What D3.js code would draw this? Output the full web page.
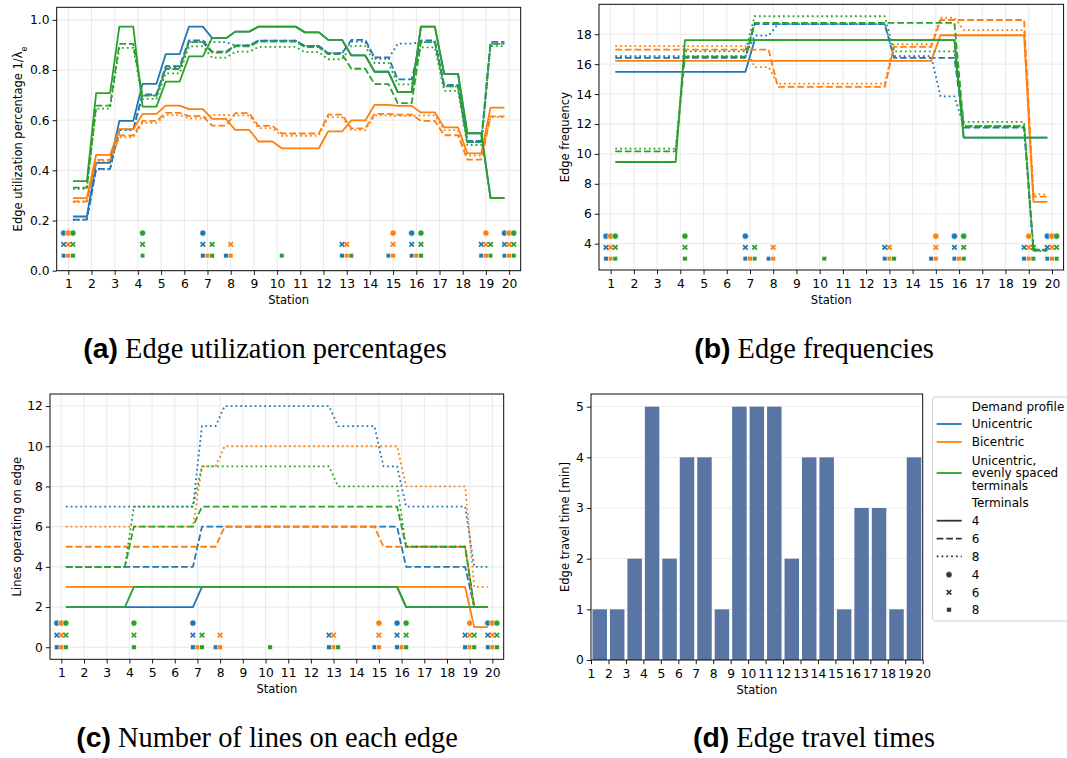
<!DOCTYPE html>
<html>
<head>
<meta charset="utf-8">
<script src="https://cdn.jsdelivr.net/npm/d3@7"></script>
<style>
  body { margin: 0; background: #fff; }
  svg { display: block; }
</style>
</head>
<body>
<svg id="fig" width="1067" height="758"></svg>
<script>
// ---------- data ----------
const stations = d3.range(1, 21);          // stations 1..20
const edges = d3.range(1, 20);             // edge k joins station k and k+1

const profiles = ["Unicentric", "Bicentric", "Unicentric, evenly spaced terminals"];
const terminalCounts = [4, 6, 8];

// terminal stations per demand profile and number of terminals
const termUni4 = [1, 7, 16, 20];
const termUni6 = [1, 7, 13, 16, 19, 20];
const termUni8 = [1, 7, 8, 13, 15, 16, 19, 20];
const termBi4 = [1, 15, 19, 20];
const termBi6 = [1, 8, 13, 15, 19, 20];
const termBi8 = [1, 7, 8, 13, 15, 16, 19, 20];
const termEven4 = [1, 4, 16, 20];
const termEven6 = [1, 4, 7, 16, 19, 20];
const termEven8 = [1, 4, 7, 10, 13, 16, 19, 20];

// edge utilization percentage 1/lambda_e
const utilUni4 = [0.216, 0.430, 0.597, 0.745, 0.863, 0.973, 0.927, 0.953, 0.973, 0.973, 0.950, 0.920, 0.858, 0.793, 0.712, 0.973, 0.785, 0.548, 0.289];
const utilUni6 = [0.204, 0.406, 0.563, 0.703, 0.815, 0.918, 0.873, 0.898, 0.917, 0.917, 0.896, 0.867, 0.920, 0.850, 0.763, 0.918, 0.741, 0.517, 0.912];
const utilUni8 = [0.203, 0.404, 0.560, 0.699, 0.809, 0.912, 0.911, 0.898, 0.917, 0.917, 0.896, 0.867, 0.913, 0.845, 0.905, 0.911, 0.735, 0.513, 0.905];
const utilBi4 = [0.289, 0.462, 0.564, 0.625, 0.658, 0.644, 0.605, 0.561, 0.515, 0.488, 0.488, 0.555, 0.599, 0.661, 0.657, 0.631, 0.571, 0.468, 0.650];
const utilBi6 = [0.276, 0.442, 0.539, 0.597, 0.629, 0.616, 0.578, 0.628, 0.577, 0.547, 0.547, 0.622, 0.567, 0.625, 0.622, 0.597, 0.540, 0.443, 0.615];
const utilBi8 = [0.273, 0.436, 0.532, 0.589, 0.620, 0.607, 0.621, 0.619, 0.568, 0.538, 0.538, 0.612, 0.561, 0.619, 0.617, 0.619, 0.560, 0.459, 0.612];
const utilEven4 = [0.357, 0.708, 0.973, 0.654, 0.754, 0.854, 0.927, 0.953, 0.973, 0.973, 0.950, 0.920, 0.858, 0.793, 0.712, 0.973, 0.785, 0.548, 0.289];
const utilEven6 = [0.331, 0.658, 0.904, 0.698, 0.804, 0.911, 0.869, 0.894, 0.913, 0.913, 0.891, 0.863, 0.805, 0.744, 0.668, 0.911, 0.735, 0.513, 0.904];
const utilEven8 = [0.326, 0.646, 0.888, 0.685, 0.787, 0.894, 0.849, 0.873, 0.892, 0.892, 0.871, 0.843, 0.896, 0.828, 0.743, 0.890, 0.717, 0.501, 0.895];

// edge frequency
const freqUni4 = [15.48, 15.48, 15.48, 15.48, 15.48, 15.48, 17.6, 17.6, 17.6, 17.6, 17.6, 17.6, 17.6, 17.6, 17.6, 11.09, 11.09, 11.09, 11.09];
const freqUni6 = [16.42, 16.42, 16.42, 16.42, 16.42, 16.42, 18.67, 18.67, 18.67, 18.67, 18.67, 18.67, 16.42, 16.42, 16.42, 11.76, 11.76, 11.76, 3.6];
const freqUni8 = [16.53, 16.53, 16.53, 16.53, 16.53, 16.53, 17.9, 18.67, 18.67, 18.67, 18.67, 18.67, 16.53, 16.53, 13.85, 11.85, 11.85, 11.85, 3.55];
const freqBi4 = [16.22, 16.22, 16.22, 16.22, 16.22, 16.22, 16.22, 16.22, 16.22, 16.22, 16.22, 16.22, 16.22, 16.22, 17.93, 17.93, 17.93, 17.93, 6.8];
const freqBi6 = [16.97, 16.97, 16.97, 16.97, 16.97, 16.97, 16.97, 14.48, 14.48, 14.48, 14.48, 14.48, 17.15, 17.15, 18.95, 18.95, 18.95, 18.95, 7.15];
const freqBi8 = [17.2, 17.2, 17.2, 17.2, 17.2, 17.2, 15.8, 14.7, 14.7, 14.7, 14.7, 14.7, 17.33, 17.33, 19.1, 18.27, 18.27, 18.27, 7.3];
const freqEven4 = [9.46, 9.46, 9.46, 17.6, 17.6, 17.6, 17.6, 17.6, 17.6, 17.6, 17.6, 17.6, 17.6, 17.6, 17.6, 11.09, 11.09, 11.09, 11.09];
const freqEven6 = [10.17, 10.17, 10.17, 16.5, 16.5, 16.5, 18.76, 18.76, 18.76, 18.76, 18.76, 18.76, 18.76, 18.76, 18.76, 11.85, 11.85, 11.85, 3.55];
const freqEven8 = [10.35, 10.35, 10.35, 16.86, 16.86, 16.86, 19.2, 19.2, 19.2, 19.2, 19.2, 19.2, 16.86, 16.86, 16.86, 12.14, 12.14, 12.14, 3.5];

// number of lines operating on each edge
const linesUni4 = [2, 2, 2, 2, 2, 2, 3, 3, 3, 3, 3, 3, 3, 3, 3, 2, 2, 2, 2];
const linesUni6 = [4, 4, 4, 4, 4, 4, 6, 6, 6, 6, 6, 6, 6, 6, 6, 4, 4, 4, 2];
const linesUni8 = [7, 7, 7, 7, 7, 7, 11, 12, 12, 12, 12, 12, 11, 11, 9, 7, 7, 7, 4];
const linesBi4 = [3, 3, 3, 3, 3, 3, 3, 3, 3, 3, 3, 3, 3, 3, 3, 3, 3, 3, 1];
const linesBi6 = [5, 5, 5, 5, 5, 5, 5, 6, 6, 6, 6, 6, 6, 6, 5, 5, 5, 5, 2];
const linesBi8 = [6, 6, 6, 6, 6, 6, 9, 10, 10, 10, 10, 10, 10, 10, 10, 8, 8, 8, 3];
const linesEven4 = [2, 2, 2, 3, 3, 3, 3, 3, 3, 3, 3, 3, 3, 3, 3, 2, 2, 2, 2];
const linesEven6 = [4, 4, 4, 6, 6, 6, 7, 7, 7, 7, 7, 7, 7, 7, 7, 5, 5, 5, 2];
const linesEven8 = [4, 4, 4, 7, 7, 7, 9, 9, 9, 9, 9, 9, 8, 8, 8, 5, 5, 5, 2];

// edge travel time [min]
const travelTimes = [1, 1, 2, 5, 2, 4, 4, 1, 5, 5, 5, 2, 4, 4, 1, 3, 3, 1, 4];

// tick labels
const utilTicks = [0, 0.2, 0.4, 0.6, 0.8, 1.0];
const freqTicks = [4, 6, 8, 10, 12, 14, 16, 18];
const linesTicks = [0, 2, 4, 6, 8, 10, 12];
const timeTicks = [0, 1, 2, 3, 4, 5];

// ---------- styling ----------
const FONT = "'DejaVu Sans', 'Liberation Sans', sans-serif";
const colors = ["#1f77b4", "#ff7f0e", "#2ca02c"];
const dashes = { 4: null, 6: "6.7,2.9", 8: "1.8,3" };
const markerOffset = [-0.2, 0, 0.2];
const LW = 1.8;
const TICK_FS = 12.3;
const LABEL_FS = 11.5;

const svg = d3.select("#fig");
svg.append("rect").attr("width", 1067).attr("height", 758).attr("fill", "#fff");

const termLists = [
  [termUni4, termUni6, termUni8],
  [termBi4, termBi6, termBi8],
  [termEven4, termEven6, termEven8]
];

function bundle(a, b, c, d, e, f, g, h, i) {
  return [
    { p: 0, t: 4, v: a }, { p: 0, t: 6, v: b }, { p: 0, t: 8, v: c },
    { p: 1, t: 4, v: d }, { p: 1, t: 6, v: e }, { p: 1, t: 8, v: f },
    { p: 2, t: 4, v: g }, { p: 2, t: 6, v: h }, { p: 2, t: 8, v: i }
  ];
}

function styleAxis(g, fs) {
  g.select(".domain").remove();
  g.selectAll(".tick line").attr("stroke", "#000").attr("stroke-width", 0.9);
  g.selectAll(".tick text").attr("fill", "#000").style("font-family", FONT).style("font-size", fs + "px");
}

function markerPath(sel, kind, color) {
  if (kind === 4) {
    sel.append("circle").attr("r", 3.1).attr("fill", color).attr("stroke", "#fff").attr("stroke-width", 0.6);
  } else if (kind === 6) {
    const h = 2.3;
    sel.append("path")
      .attr("d", `M${-h},${-h}L${h},${h}M${-h},${h}L${h},${-h}`)
      .attr("stroke", color).attr("stroke-width", 1.7).attr("fill", "none");
  } else {
    sel.append("rect").attr("x", -2.3).attr("y", -2.3).attr("width", 4.6).attr("height", 4.6)
      .attr("fill", color).attr("stroke", "#fff").attr("stroke-width", 0.5);
  }
}

function linePanel(cfg) {
  const g = svg.append("g");
  const x = d3.scaleLinear().domain([0.5, 20.5]).range([cfg.left, cfg.right]);
  const y = d3.scaleLinear().domain(cfg.yDomain).range([cfg.bottom, cfg.top]);

  // grid
  g.append("g").selectAll("line").data(stations).join("line")
    .attr("x1", d => x(d)).attr("x2", d => x(d)).attr("y1", cfg.top).attr("y2", cfg.bottom)
    .attr("stroke", "#e6e6e6").attr("stroke-width", 0.9);
  g.append("g").selectAll("line").data(cfg.yTicks).join("line")
    .attr("x1", cfg.left).attr("x2", cfg.right).attr("y1", d => y(d)).attr("y2", d => y(d))
    .attr("stroke", "#e6e6e6").attr("stroke-width", 0.9);

  // step lines: flat over each edge, sloped across each station
  const line = d3.line().x(d => x(d[0])).y(d => y(d[1]));
  cfg.series.forEach(s => {
    const pts = [];
    s.v.forEach((val, i) => { pts.push([edges[i] + 0.2, val], [edges[i] + 0.8, val]); });
    g.append("path").attr("d", line(pts)).attr("fill", "none")
      .attr("stroke", colors[s.p]).attr("stroke-width", LW)
      .attr("stroke-dasharray", dashes[s.t]).attr("stroke-linejoin", "round");
  });

  // terminal markers
  terminalCounts.forEach((tc, ti) => {
    profiles.forEach((_, pi) => {
      termLists[pi][ti].forEach(st => {
        const m = g.append("g").attr("transform", `translate(${x(st + markerOffset[pi])},${y(cfg.markerY[ti])})`);
        markerPath(m, tc, colors[pi]);
      });
    });
  });

  // spines
  g.append("rect").attr("x", cfg.left).attr("y", cfg.top)
    .attr("width", cfg.right - cfg.left).attr("height", cfg.bottom - cfg.top)
    .attr("fill", "none").attr("stroke", "#000").attr("stroke-width", 0.96);

  const xa = g.append("g").attr("transform", `translate(0,${cfg.bottom})`)
    .call(d3.axisBottom(x).tickValues(stations).tickFormat(d3.format("d")).tickSize(4.2).tickPadding(4.6));
  styleAxis(xa, TICK_FS);
  const ya = g.append("g").attr("transform", `translate(${cfg.left},0)`)
    .call(d3.axisLeft(y).tickValues(cfg.yTicks).tickFormat(cfg.yFmt).tickSize(4.2).tickPadding(3));
  styleAxis(ya, TICK_FS);

  g.append("text").attr("x", (cfg.left + cfg.right) / 2).attr("y", cfg.bottom + 33.5)
    .attr("text-anchor", "middle").style("font-family", FONT).style("font-size", LABEL_FS + "px").text("Station");

  const yl = g.append("text")
    .attr("transform", `translate(${cfg.yLabelX},${(cfg.top + cfg.bottom) / 2}) rotate(-90)`)
    .attr("text-anchor", "middle").attr("dy", "0.35em")
    .style("font-family", FONT).style("font-size", LABEL_FS + "px");
  yl.append("tspan").text(cfg.yLabel);
  if (cfg.yLabelSub) {
    yl.append("tspan").attr("baseline-shift", "sub").style("font-size", "8px").text(cfg.yLabelSub);
  }
}

// (a) utilization
linePanel({
  left: 56.7, right: 520.7, top: 7.3, bottom: 270.7,
  yDomain: [0, 1.05], yTicks: utilTicks, yFmt: d3.format(".1f"),
  yLabel: "Edge utilization percentage 1/\u03bb", yLabelSub: "e", yLabelX: 17.5,
  markerY: [0.15, 0.105, 0.06],
  series: bundle(utilUni4, utilUni6, utilUni8, utilBi4, utilBi6, utilBi8, utilEven4, utilEven6, utilEven8)
});

// (b) frequencies
linePanel({
  left: 599, right: 1063.6, top: 4.3, bottom: 270,
  yDomain: [2.24, 20.0], yTicks: freqTicks, yFmt: d3.format("d"),
  yLabel: "Edge frequency", yLabelX: 565,
  markerY: [4.5, 3.75, 3.0],
  series: bundle(freqUni4, freqUni6, freqUni8, freqBi4, freqBi6, freqBi8, freqEven4, freqEven6, freqEven8)
});

// (c) lines per edge
linePanel({
  left: 50, right: 503.7, top: 394, bottom: 659.3,
  yDomain: [-0.6, 12.6], yTicks: linesTicks, yFmt: d3.format("d"),
  yLabel: "Lines operating on edge", yLabelX: 17,
  markerY: [1.2, 0.6, 0.0],
  series: bundle(linesUni4, linesUni6, linesUni8, linesBi4, linesBi6, linesBi8, linesEven4, linesEven6, linesEven8)
});

// (d) travel times
(function () {
  const box = { left: 591, right: 922.7, top: 394, bottom: 660 };
  const g = svg.append("g");
  const x = d3.scaleLinear().domain([1, 20]).range([box.left, box.right]);
  const band = d3.scaleBand().domain(edges).range([box.left, box.right]).paddingInner(0.17).paddingOuter(0.085);
  const y = d3.scaleLinear().domain([0, 5.25]).range([box.bottom, box.top]);

  g.append("g").selectAll("line").data(timeTicks.slice(1)).join("line")
    .attr("x1", box.left).attr("x2", box.right).attr("y1", d => y(d)).attr("y2", d => y(d))
    .attr("stroke", "#ebebeb").attr("stroke-width", 0.9);

  g.append("g").selectAll("rect").data(travelTimes).join("rect")
    .attr("x", (d, i) => band(edges[i])).attr("width", band.bandwidth())
    .attr("y", d => y(d)).attr("height", d => y(0) - y(d))
    .attr("fill", "#5975a4");

  g.append("rect").attr("x", box.left).attr("y", box.top)
    .attr("width", box.right - box.left).attr("height", box.bottom - box.top)
    .attr("fill", "none").attr("stroke", "#000").attr("stroke-width", 0.96);

  const xa = g.append("g").attr("transform", `translate(0,${box.bottom})`)
    .call(d3.axisBottom(x).tickValues(stations).tickFormat(d3.format("d")).tickSize(4.2).tickPadding(4.6));
  styleAxis(xa, TICK_FS);
  const ya = g.append("g").attr("transform", `translate(${box.left},0)`)
    .call(d3.axisLeft(y).tickValues(timeTicks).tickFormat(d3.format("d")).tickSize(4.2).tickPadding(3));
  styleAxis(ya, TICK_FS);

  g.append("text").attr("x", (box.left + box.right) / 2).attr("y", box.bottom + 33.5)
    .attr("text-anchor", "middle").style("font-family", FONT).style("font-size", LABEL_FS + "px").text("Station");
  g.append("text")
    .attr("transform", `translate(565,${(box.top + box.bottom) / 2}) rotate(-90)`)
    .attr("text-anchor", "middle").attr("dy", "0.35em")
    .style("font-family", FONT).style("font-size", LABEL_FS + "px").text("Edge travel time [min]");
})();

// legend
(function () {
  const g = svg.append("g").style("font-family", FONT).style("font-size", "12px");
  g.append("rect").attr("x", 932.5).attr("y", 397).attr("width", 160).attr("height", 224)
    .attr("rx", 3).attr("fill", "#fff").attr("fill-opacity", 0.85).attr("stroke", "#cccccc").attr("stroke-width", 0.9);
  const tx = 971.7, hx0 = 936.7, hx1 = 961.7, mx = 949;
  const gray = "#333333";
  const rows = [
    { y: 406.3, label: ["Demand profile"] },
    { y: 424, label: ["Unicentric"], line: colors[0] },
    { y: 442, label: ["Bicentric"], line: colors[1] },
    { y: 473, label: ["Unicentric,", "evenly spaced", "terminals"], line: colors[2] },
    { y: 503, label: ["Terminals"] },
    { y: 520.7, label: ["4"], line: gray, dash: dashes[4] },
    { y: 538.7, label: ["6"], line: gray, dash: dashes[6] },
    { y: 556.3, label: ["8"], line: gray, dash: dashes[8] },
    { y: 574.7, label: ["4"], marker: 4 },
    { y: 592.3, label: ["6"], marker: 6 },
    { y: 609.7, label: ["8"], marker: 8 }
  ];
  rows.forEach(r => {
    if (r.line) {
      g.append("line").attr("x1", hx0).attr("x2", hx1).attr("y1", r.y).attr("y2", r.y)
        .attr("stroke", r.line).attr("stroke-width", LW).attr("stroke-dasharray", r.dash || null);
    }
    if (r.marker) {
      markerPath(g.append("g").attr("transform", `translate(${mx},${r.y})`), r.marker, gray);
    }
    const n = r.label.length;
    r.label.forEach((s, i) => {
      g.append("text").attr("x", tx).attr("y", r.y + (i - (n - 1) / 2) * 12.7)
        .attr("dy", "0.35em").attr("fill", "#000").text(s);
    });
  });
})();

// sub-figure captions
function caption(cx, y, tag, title) {
  const t = svg.append("text").attr("x", cx).attr("y", y).attr("text-anchor", "middle")
    .style("font-size", "28.4px").attr("fill", "#000");
  t.append("tspan").style("font-family", "'Liberation Sans', Arial, sans-serif").style("font-weight", "bold").text(`(${tag})`);
  t.append("tspan").style("font-family", "'Liberation Serif', 'Times New Roman', serif").text(" " + title);
}
caption(265, 358, "a", "Edge utilization percentages");
caption(814, 358, "b", "Edge frequencies");
caption(267, 747, "c", "Number of lines on each edge");
caption(814, 747, "d", "Edge travel times");
</script>
</body>
</html>
